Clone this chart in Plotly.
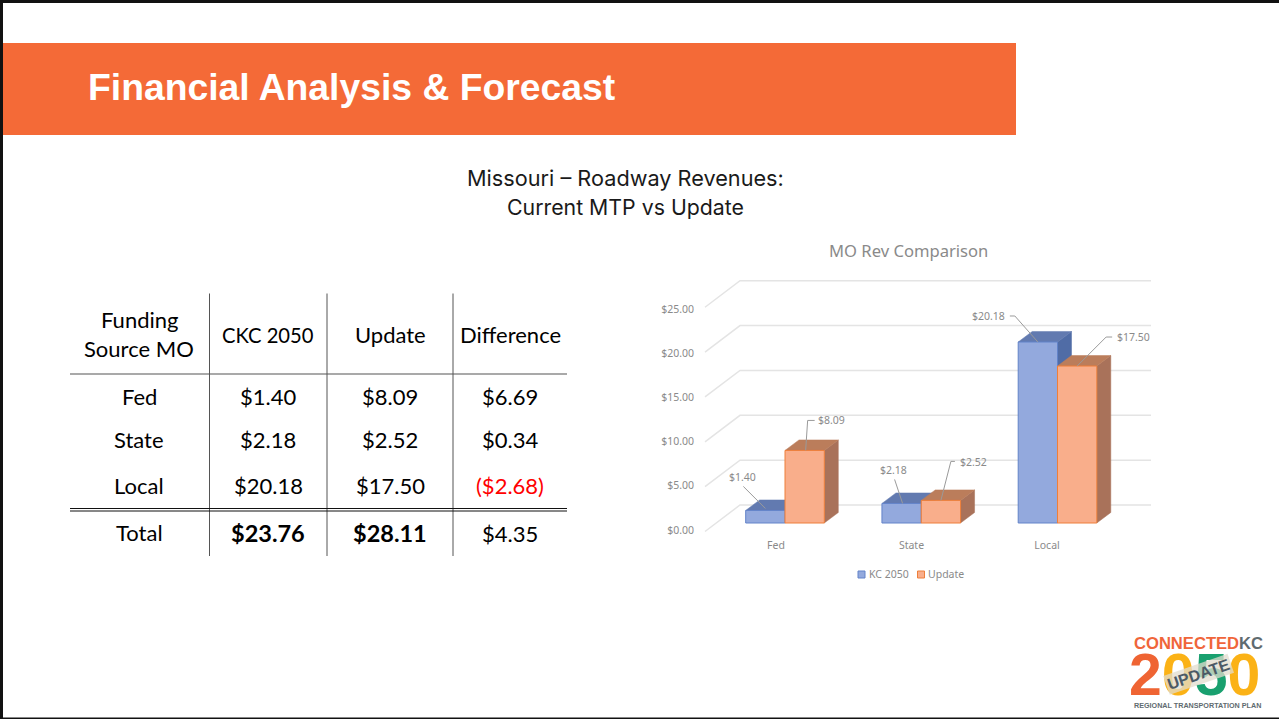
import plotly.graph_objects as go

W, H = 1279, 719

# ---------- data ----------
categories = ["Fed", "State", "Local"]
kc2050 = [1.40, 2.18, 20.18]
update = [8.09, 2.52, 17.50]
axis_ticks = [0, 5, 10, 15, 20, 25]
axis_tick_labels = ["$0.00", "$5.00", "$10.00", "$15.00", "$20.00", "$25.00"]
series_names = ["KC 2050", "Update"]

table_header = ["CKC 2050", "Update", "Difference"]
table_rows = ["Fed", "State", "Local"]
table_ckc = ["$1.40", "$2.18", "$20.18"]
table_update = ["$8.09", "$2.52", "$17.50"]
table_diff = ["$6.69", "$0.34", "($2.68)"]
table_total = ["Total", "$23.76", "$28.11", "$4.35"]

# ---------- colours / fonts ----------
BLUE, BLUE_EDGE, BLUE_TOP, BLUE_SIDE = "#93a9dd", "#6283c9", "#627ab0", "#506ca6"
ORNG, ORNG_EDGE, ORNG_TOP, ORNG_SIDE = "#f9ae8b", "#ee7f3a", "#bb7d5b", "#a9725a"
GREY = "#8a8a8a"
TABLE_FONT = "Lato"
CHART_FONT = "Noto Sans"

# ---------- chart geometry (pixels) ----------
PLOT_L, PLOT_R, PLOT_T, PLOT_B = 700, 1160, 270, 540
X0, X_STEP = 785, 136.25       # pixel of first category centre, spacing
Y0, Y_STEP = 523, 8.97         # pixel of $0 on the bars' front plane, px per $
BAR_W = 39.3
DEPTH_X, DEPTH_Y = 14, 10.5    # oblique offset of the 3-D faces
WALL_Y = 18                    # back wall is this many px above the front plane


def px(u):  # horizontal pixel -> category units
    return (u - X0) / X_STEP


def py(v):  # vertical pixel -> dollars
    return (Y0 - v) / Y_STEP


def fx(u):  # paper x
    return u / W


def fy(v):  # paper y
    return 1 - v / H


x_range = [px(PLOT_L), px(PLOT_R)]
y_range = [py(PLOT_B), py(PLOT_T)]
dx, dy = DEPTH_X / X_STEP, DEPTH_Y / Y_STEP
bw = BAR_W / X_STEP

fig = go.Figure()

# back wall grid + left wall diagonals
gx, gy = [], []
for t in axis_ticks:
    back = t + WALL_Y / Y_STEP
    gx += [px(705), px(740), px(1151), None]
    gy += [t - 0.95, back, back, None]
fig.add_trace(go.Scatter(x=gx, y=gy, mode="lines", line=dict(color="#e4e4e4", width=1.5),
                         showlegend=False, hoverinfo="skip", xaxis="x", yaxis="y"))


def faces(values, lo, hi, top_col, side_col):
    """top and side faces of each oblique bar, in axis units"""
    for i, v in enumerate(values):
        a, b = i + lo * bw, i + hi * bw
        fig.add_trace(go.Scatter(
            x=[b, b + dx, b + dx, b, b], y=[0, dy, v + dy, v, 0], mode="lines", fill="toself",
            fillcolor=side_col, line=dict(color=side_col, width=0.5),
            showlegend=False, hoverinfo="skip", xaxis="x", yaxis="y"))
        fig.add_trace(go.Scatter(
            x=[a, a + dx, b + dx, b, a], y=[v, v + dy, v + dy, v, v], mode="lines", fill="toself",
            fillcolor=top_col, line=dict(color=top_col, width=0.5),
            showlegend=False, hoverinfo="skip", xaxis="x", yaxis="y"))


faces(kc2050, -1, 0, BLUE_TOP, BLUE_SIDE)
faces(update, 0, 1, ORNG_TOP, ORNG_SIDE)

# front faces
fig.add_trace(go.Bar(x=categories, y=kc2050, name=series_names[0], xaxis="x2", yaxis="y2",
                     marker=dict(color=BLUE, line=dict(color=BLUE_EDGE, width=1)), showlegend=False))
fig.add_trace(go.Bar(x=categories, y=update, name=series_names[1], xaxis="x2", yaxis="y2",
                     marker=dict(color=ORNG, line=dict(color=ORNG_EDGE, width=1)), showlegend=False))

# invisible carrier for the axis that shows tick and category labels
fig.add_trace(go.Scatter(x=categories, y=kc2050, mode="markers", marker=dict(opacity=0),
                         showlegend=False, hoverinfo="skip", xaxis="x3", yaxis="y3"))

hidden = dict(visible=False, fixedrange=True, automargin=False)
chart_dom_x = [fx(PLOT_L), fx(PLOT_R)]
chart_dom_y = [fy(PLOT_B), fy(PLOT_T)]
lbl_step = 135.5
fig.update_layout(
    template="none",
    width=W, height=H, margin=dict(l=0, r=0, t=0, b=0, pad=0, autoexpand=False),
    paper_bgcolor="white", plot_bgcolor="rgba(0,0,0,0)", showlegend=False,
    barmode="group", bargap=1 - 2 * bw, bargroupgap=0,
    font=dict(family=CHART_FONT, color=GREY),
    xaxis=dict(domain=chart_dom_x, range=x_range, **hidden),
    yaxis=dict(domain=chart_dom_y, range=y_range, **hidden),
    xaxis2=dict(domain=chart_dom_x, range=x_range, type="category", categoryorder="array",
                categoryarray=categories, anchor="y2", **hidden),
    yaxis2=dict(domain=chart_dom_y, range=y_range, anchor="x2", **hidden),
    xaxis3=dict(domain=chart_dom_x, type="category", categoryorder="array", categoryarray=categories,
                range=[(PLOT_L - 776) / lbl_step, (PLOT_R - 776) / lbl_step],
                anchor="free", position=fy(537), showgrid=False, zeroline=False, showline=False,
                automargin=False, ticks="",
                tickfont=dict(size=10.5, color=GREY, family=CHART_FONT), fixedrange=True),
    yaxis3=dict(domain=[fy(530), fy(309)], range=[0, 25], anchor="free", position=fx(694),
                tickvals=axis_ticks, ticktext=axis_tick_labels, showgrid=False,
                zeroline=False, showline=False, ticks="", automargin=False,
                tickfont=dict(size=10.5, color=GREY, family=CHART_FONT), fixedrange=True),
)

shapes, ann = [], []


def text(u, v, s, size, color="black", family=TABLE_FONT, bold=False, anchor="center", **kw):
    ann.append(dict(xref="paper", yref="paper", x=fx(u), y=fy(v), xanchor=anchor, yanchor="middle",
                    showarrow=False, text=f"<b>{s}</b>" if bold else s,
                    font=dict(size=size, color=color, family=family), **kw))


def rect(x0, y0, x1, y1, color, **kw):
    shapes.append(dict(type="rect", xref="paper", yref="paper", x0=fx(x0), x1=fx(x1), y0=fy(y0), y1=fy(y1),
                       fillcolor=color, line=dict(width=0), **kw))


def hline(x0, x1, y, color, width=1):
    shapes.append(dict(type="line", xref="paper", yref="paper", x0=fx(x0), x1=fx(x1), y0=fy(y), y1=fy(y),
                       line=dict(color=color, width=width)))


def vline(x, y0, y1, color, width=1):
    shapes.append(dict(type="line", xref="paper", yref="paper", x0=fx(x), x1=fx(x), y0=fy(y0), y1=fy(y1),
                       line=dict(color=color, width=width)))


# slide frame and banner
rect(0, 0, W, 3, "#111111")
rect(0, 0, 3, H, "#111111")
rect(0, 717.5, W, H, "#111111")
rect(3, 43, 1016, 135, "#f46a37")
text(86, 87, "Financial Analysis &amp; Forecast", 37.3, "white", "Liberation Sans", True, "left")
text(625, 178, "Missouri – Roadway Revenues:", 21.7, "#1a1a1a", "Inter")
text(625, 207, "Current MTP vs Update", 21.3, "#1a1a1a", "Inter")

# table
COLS = [139, 268, 390, 510]
for x_ in (209.5, 327, 453):
    vline(x_, 293.5, 556, "#555555")
hline(70, 567, 374, "#555555", 1.2)
hline(70, 567, 508.5, "#111111")
hline(70, 567, 511, "#111111")
TS = 22
text(COLS[0], 319.5, "Funding", TS)
text(COLS[0], 348.5, "Source MO", TS)
for c, s in zip(COLS[1:], table_header):
    text(c, 334.5, s, 20.2 if s.startswith("CKC") else TS)
for y_, r, a, b, d in zip((396.5, 439.5, 485.5), table_rows, table_ckc, table_update, table_diff):
    text(COLS[0], y_, r, TS)
    text(COLS[1], y_, a, TS)
    text(COLS[2], y_, b, TS)
    text(COLS[3], y_, d, TS, "#ff0000" if d.startswith("(") else "black")
text(COLS[0], 532.5, table_total[0], TS)
text(COLS[1], 532.5, table_total[1], 23.5, bold=True)
text(COLS[2], 532.5, table_total[2], 23.5, bold=True)
text(COLS[3], 533, table_total[3], TS)

# chart title and legend
text(908, 251, "MO Rev Comparison", 16.6, GREY, CHART_FONT)
for x0, col, edge, name, tx in ((858, BLUE, BLUE_EDGE, series_names[0], 866.5),
                                (917.5, ORNG, ORNG_EDGE, series_names[1], 926.5)):
    shapes.append(dict(type="rect", xref="paper", yref="paper", x0=fx(x0), x1=fx(x0 + 7), y0=fy(578), y1=fy(571),
                       fillcolor=col, line=dict(color=edge, width=1)))
    text(tx, 573.5, name, 10.5, GREY, CHART_FONT, anchor="left")

# data label leaders: (series values, index, side of bar, leader points as pixel offsets, label pos, anchor)
leaders = [
    (kc2050, 0, -0.5, [(0, -2), (-22, -24)], (-23, -33), "center"),
    (update, 0, 0.5, [(1, 0), (3, -30), (10, -30)], (11, -30), "left"),
    (kc2050, 1, -0.5, [(1, 0), (-7, -24)], (-8, -33), "center"),
    (update, 1, 0.5, [(0, 0), (10, -39), (14, -39)], (17, -38), "left"),
    (kc2050, 2, -0.5, [(0, 0), (-23, -26), (-28, -26)], (-31, -26), "right"),
    (update, 2, 0.5, [(0, 0), (29, -29), (35, -29)], (38, -29), "left"),
]
for vals, i, side, pts, lab, anchor in leaders:
    v = vals[i]
    cx = X0 + (i + side * bw) * X_STEP
    cy = Y0 - v * Y_STEP
    path = " ".join(("M" if k == 0 else "L") + f" {px(cx + a)} {py(cy + b)}" for k, (a, b) in enumerate(pts))
    shapes.append(dict(type="path", xref="x", yref="y", path=path,
                       line=dict(color="#9a9a9a", width=1), layer="above"))
    ann.append(dict(xref="paper", yref="paper", x=fx(cx + lab[0]), y=fy(cy + lab[1]), xanchor=anchor,
                    yanchor="middle", showarrow=False, text=f"${v:.2f}",
                    font=dict(size=10.5, color=GREY, family=CHART_FONT)))

# logo
LOGO = "Liberation Sans"
text(1198.5, 643, '<span style="color:#f0653a">CONNECTED</span><span style="color:#5f6b70">KC</span>',
     16.6, "#f0653a", LOGO, True)
text(1194.5, 675, '<span style="color:#ef6433">2</span><span style="color:#fbb216">0</span>'
     '<span style="color:#19a06f">5</span><span style="color:#fbb216">0</span>', 59, "#ef6433", LOGO, True)
ann.append(dict(xref="paper", yref="paper", x=fx(1198), y=fy(674), xanchor="center", yanchor="middle",
                showarrow=False, text="<b>UPDATE</b>", textangle=-19, bgcolor="rgba(225,220,205,0.75)",
                borderpad=1, font=dict(size=16, color="#4c5a66", family=LOGO)))
text(1197, 705, "REGIONAL TRANSPORTATION PLAN", 7.2, "#5f6b70", LOGO, True)

fig.update_layout(shapes=shapes, annotations=ann)
fig.write_html("out.html", config=dict(displayModeBar=False),
               post_script="document.body.style.margin='0';document.documentElement.style.overflow='hidden';")
